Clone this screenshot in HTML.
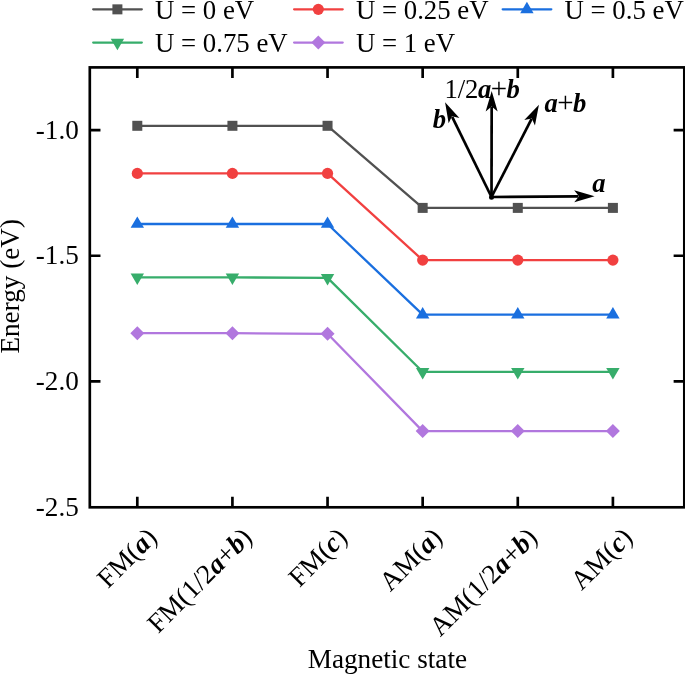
<!DOCTYPE html>
<html lang="en"><head><meta charset="utf-8"><title>Energy vs magnetic state</title>
<style>
html,body{margin:0;padding:0;background:#fff;}
body{width:685px;height:674px;overflow:hidden;}
svg{display:block;}
text{font-family:"Liberation Serif","Times New Roman",serif;font-size:27.2px;fill:#000;}
.lg{font-size:26.8px;}
.in{font-size:26.67px;}
.bi{font-weight:bold;font-style:italic;}
.pl{font-size:29px;}
</style></head><body>
<svg width="685" height="674" viewBox="0 0 685 674">
<rect x="0" y="0" width="685" height="674" fill="#fff"/>

<polyline points="137.30,125.80 232.42,125.80 327.54,125.80 422.66,207.90 517.78,207.90 612.90,207.90" fill="none" stroke="#515151" stroke-width="2.3" stroke-linejoin="round"/>
<rect x="132.30" y="120.80" width="10" height="10" fill="#515151"/>
<rect x="227.42" y="120.80" width="10" height="10" fill="#515151"/>
<rect x="322.54" y="120.80" width="10" height="10" fill="#515151"/>
<rect x="417.66" y="202.90" width="10" height="10" fill="#515151"/>
<rect x="512.78" y="202.90" width="10" height="10" fill="#515151"/>
<rect x="607.90" y="202.90" width="10" height="10" fill="#515151"/>
<polyline points="137.30,173.40 232.42,173.40 327.54,173.40 422.66,260.10 517.78,260.10 612.90,260.10" fill="none" stroke="#F14040" stroke-width="2.3" stroke-linejoin="round"/>
<circle cx="137.30" cy="173.40" r="5.6" fill="#F14040"/>
<circle cx="232.42" cy="173.40" r="5.6" fill="#F14040"/>
<circle cx="327.54" cy="173.40" r="5.6" fill="#F14040"/>
<circle cx="422.66" cy="260.10" r="5.6" fill="#F14040"/>
<circle cx="517.78" cy="260.10" r="5.6" fill="#F14040"/>
<circle cx="612.90" cy="260.10" r="5.6" fill="#F14040"/>
<polyline points="137.30,224.00 232.42,224.00 327.54,224.00 422.66,314.60 517.78,314.60 612.90,314.60" fill="none" stroke="#1A6FDF" stroke-width="2.3" stroke-linejoin="round"/>
<polygon points="137.30,216.40 144.00,227.80 130.60,227.80" fill="#1A6FDF"/>
<polygon points="232.42,216.40 239.12,227.80 225.72,227.80" fill="#1A6FDF"/>
<polygon points="327.54,216.40 334.24,227.80 320.84,227.80" fill="#1A6FDF"/>
<polygon points="422.66,307.00 429.36,318.40 415.96,318.40" fill="#1A6FDF"/>
<polygon points="517.78,307.00 524.48,318.40 511.08,318.40" fill="#1A6FDF"/>
<polygon points="612.90,307.00 619.60,318.40 606.20,318.40" fill="#1A6FDF"/>
<polyline points="137.30,277.40 232.42,277.40 327.54,277.90 422.66,371.80 517.78,371.80 612.90,371.80" fill="none" stroke="#37AD6B" stroke-width="2.3" stroke-linejoin="round"/>
<polygon points="137.30,285.00 144.00,273.60 130.60,273.60" fill="#37AD6B"/>
<polygon points="232.42,285.00 239.12,273.60 225.72,273.60" fill="#37AD6B"/>
<polygon points="327.54,285.50 334.24,274.10 320.84,274.10" fill="#37AD6B"/>
<polygon points="422.66,379.40 429.36,368.00 415.96,368.00" fill="#37AD6B"/>
<polygon points="517.78,379.40 524.48,368.00 511.08,368.00" fill="#37AD6B"/>
<polygon points="612.90,379.40 619.60,368.00 606.20,368.00" fill="#37AD6B"/>
<polyline points="137.30,333.20 232.42,333.20 327.54,333.80 422.66,431.10 517.78,431.10 612.90,431.10" fill="none" stroke="#B177DE" stroke-width="2.3" stroke-linejoin="round"/>
<polygon points="137.30,326.20 144.30,333.20 137.30,340.20 130.30,333.20" fill="#B177DE"/>
<polygon points="232.42,326.20 239.42,333.20 232.42,340.20 225.42,333.20" fill="#B177DE"/>
<polygon points="327.54,326.80 334.54,333.80 327.54,340.80 320.54,333.80" fill="#B177DE"/>
<polygon points="422.66,424.10 429.66,431.10 422.66,438.10 415.66,431.10" fill="#B177DE"/>
<polygon points="517.78,424.10 524.78,431.10 517.78,438.10 510.78,431.10" fill="#B177DE"/>
<polygon points="612.90,424.10 619.90,431.10 612.90,438.10 605.90,431.10" fill="#B177DE"/>
<rect x="89.8" y="67.4" width="594.50" height="439.90" fill="none" stroke="#000" stroke-width="2.67"/>
<path d="M137.30,507.3v-10.67 M137.30,67.4v10.67 M232.42,507.3v-10.67 M232.42,67.4v10.67 M327.54,507.3v-10.67 M327.54,67.4v10.67 M422.66,507.3v-10.67 M422.66,67.4v10.67 M517.78,507.3v-10.67 M517.78,67.4v10.67 M612.90,507.3v-10.67 M612.90,67.4v10.67 M89.8,130.10h10.67 M684.3,130.10h-10.67 M89.8,255.76h10.67 M684.3,255.76h-10.67 M89.8,381.43h10.67 M684.3,381.43h-10.67" stroke="#000" stroke-width="2.67" fill="none"/>
<text x="78.8" y="138.80" text-anchor="end">-1.0</text>
<text x="78.8" y="264.46" text-anchor="end">-1.5</text>
<text x="78.8" y="390.13" text-anchor="end">-2.0</text>
<text x="78.8" y="515.80" text-anchor="end">-2.5</text>
<text transform="translate(158.30,539.00) rotate(-45)" text-anchor="end">FM(<tspan class="bi">a</tspan>)</text>
<text transform="translate(253.42,539.00) rotate(-45)" text-anchor="end">FM(1/2<tspan class="bi">a</tspan>+<tspan class="bi">b</tspan>)</text>
<text transform="translate(348.54,539.00) rotate(-45)" text-anchor="end">FM(<tspan class="bi">c</tspan>)</text>
<text transform="translate(443.66,539.00) rotate(-45)" text-anchor="end">AM(<tspan class="bi">a</tspan>)</text>
<text transform="translate(538.78,539.00) rotate(-45)" text-anchor="end">AM(1/2<tspan class="bi">a</tspan>+<tspan class="bi">b</tspan>)</text>
<text transform="translate(633.90,539.00) rotate(-45)" text-anchor="end">AM(<tspan class="bi">c</tspan>)</text>
<text x="387.4" y="668" text-anchor="middle">Magnetic state</text>
<text transform="translate(19.3,286.3) rotate(-90)" text-anchor="middle">Energy (eV)</text>
<line x1="93.2" y1="9.35" x2="141.8" y2="9.35" stroke="#515151" stroke-width="2.3" stroke-linecap="round"/>
<rect x="112.40" y="4.35" width="10" height="10" fill="#515151"/>
<text class="lg" x="155.00" y="19.15">U = 0 eV</text>
<line x1="294.09999999999997" y1="9.35" x2="342.7" y2="9.35" stroke="#F14040" stroke-width="2.3" stroke-linecap="round"/>
<circle cx="318.30" cy="9.35" r="5.6" fill="#F14040"/>
<text class="lg" x="355.90" y="19.15">U = 0.25 eV</text>
<line x1="502.7" y1="9.35" x2="551.3" y2="9.35" stroke="#1A6FDF" stroke-width="2.3" stroke-linecap="round"/>
<polygon points="526.90,1.75 533.60,13.15 520.20,13.15" fill="#1A6FDF"/>
<text class="lg" x="564.50" y="19.15">U = 0.5 eV</text>
<line x1="93.2" y1="42.6" x2="141.8" y2="42.6" stroke="#37AD6B" stroke-width="2.3" stroke-linecap="round"/>
<polygon points="117.40,50.20 124.10,38.80 110.70,38.80" fill="#37AD6B"/>
<text class="lg" x="155.00" y="52.40">U = 0.75 eV</text>
<line x1="294.09999999999997" y1="42.6" x2="342.7" y2="42.6" stroke="#B177DE" stroke-width="2.3" stroke-linecap="round"/>
<polygon points="318.30,35.60 325.30,42.60 318.30,49.60 311.30,42.60" fill="#B177DE"/>
<text class="lg" x="355.90" y="52.40">U = 1 eV</text>
<line x1="491.5" y1="197.0" x2="578.50" y2="196.32" stroke="#000" stroke-width="2.7"/>
<polygon points="594.60,196.20 574.25,202.36 579.00,196.32 574.15,190.36" fill="#000"/>
<line x1="491.5" y1="197.0" x2="531.58" y2="118.95" stroke="#000" stroke-width="2.7"/>
<polygon points="538.94,104.63 534.95,125.52 531.81,118.51 524.28,120.04" fill="#000"/>
<line x1="491.5" y1="197.0" x2="491.67" y2="107.10" stroke="#000" stroke-width="2.7"/>
<polygon points="491.70,91.00 497.66,111.41 491.67,106.60 485.66,111.39" fill="#000"/>
<line x1="491.5" y1="197.0" x2="452.16" y2="116.79" stroke="#000" stroke-width="2.7"/>
<polygon points="445.07,102.33 459.44,118.00 451.94,116.34 448.66,123.29" fill="#000"/>
<circle cx="491.5" cy="197.3" r="2.5" fill="#000"/>
<text x="592.3" y="192.0" class="bi in">a</text>
<text class="in" x="544.4" y="112.3"><tspan class="bi">a</tspan><tspan class="pl" dx="-0.6">+</tspan><tspan class="bi" dx="-0.6">b</tspan></text>
<text class="in" x="444.4" y="98.0">1/2<tspan class="bi" dx="-0.4">a</tspan><tspan class="pl" dx="-0.6">+</tspan><tspan class="bi" dx="-0.6">b</tspan></text>
<text x="432.8" y="127.6" class="bi in">b</text>
</svg></body></html>
